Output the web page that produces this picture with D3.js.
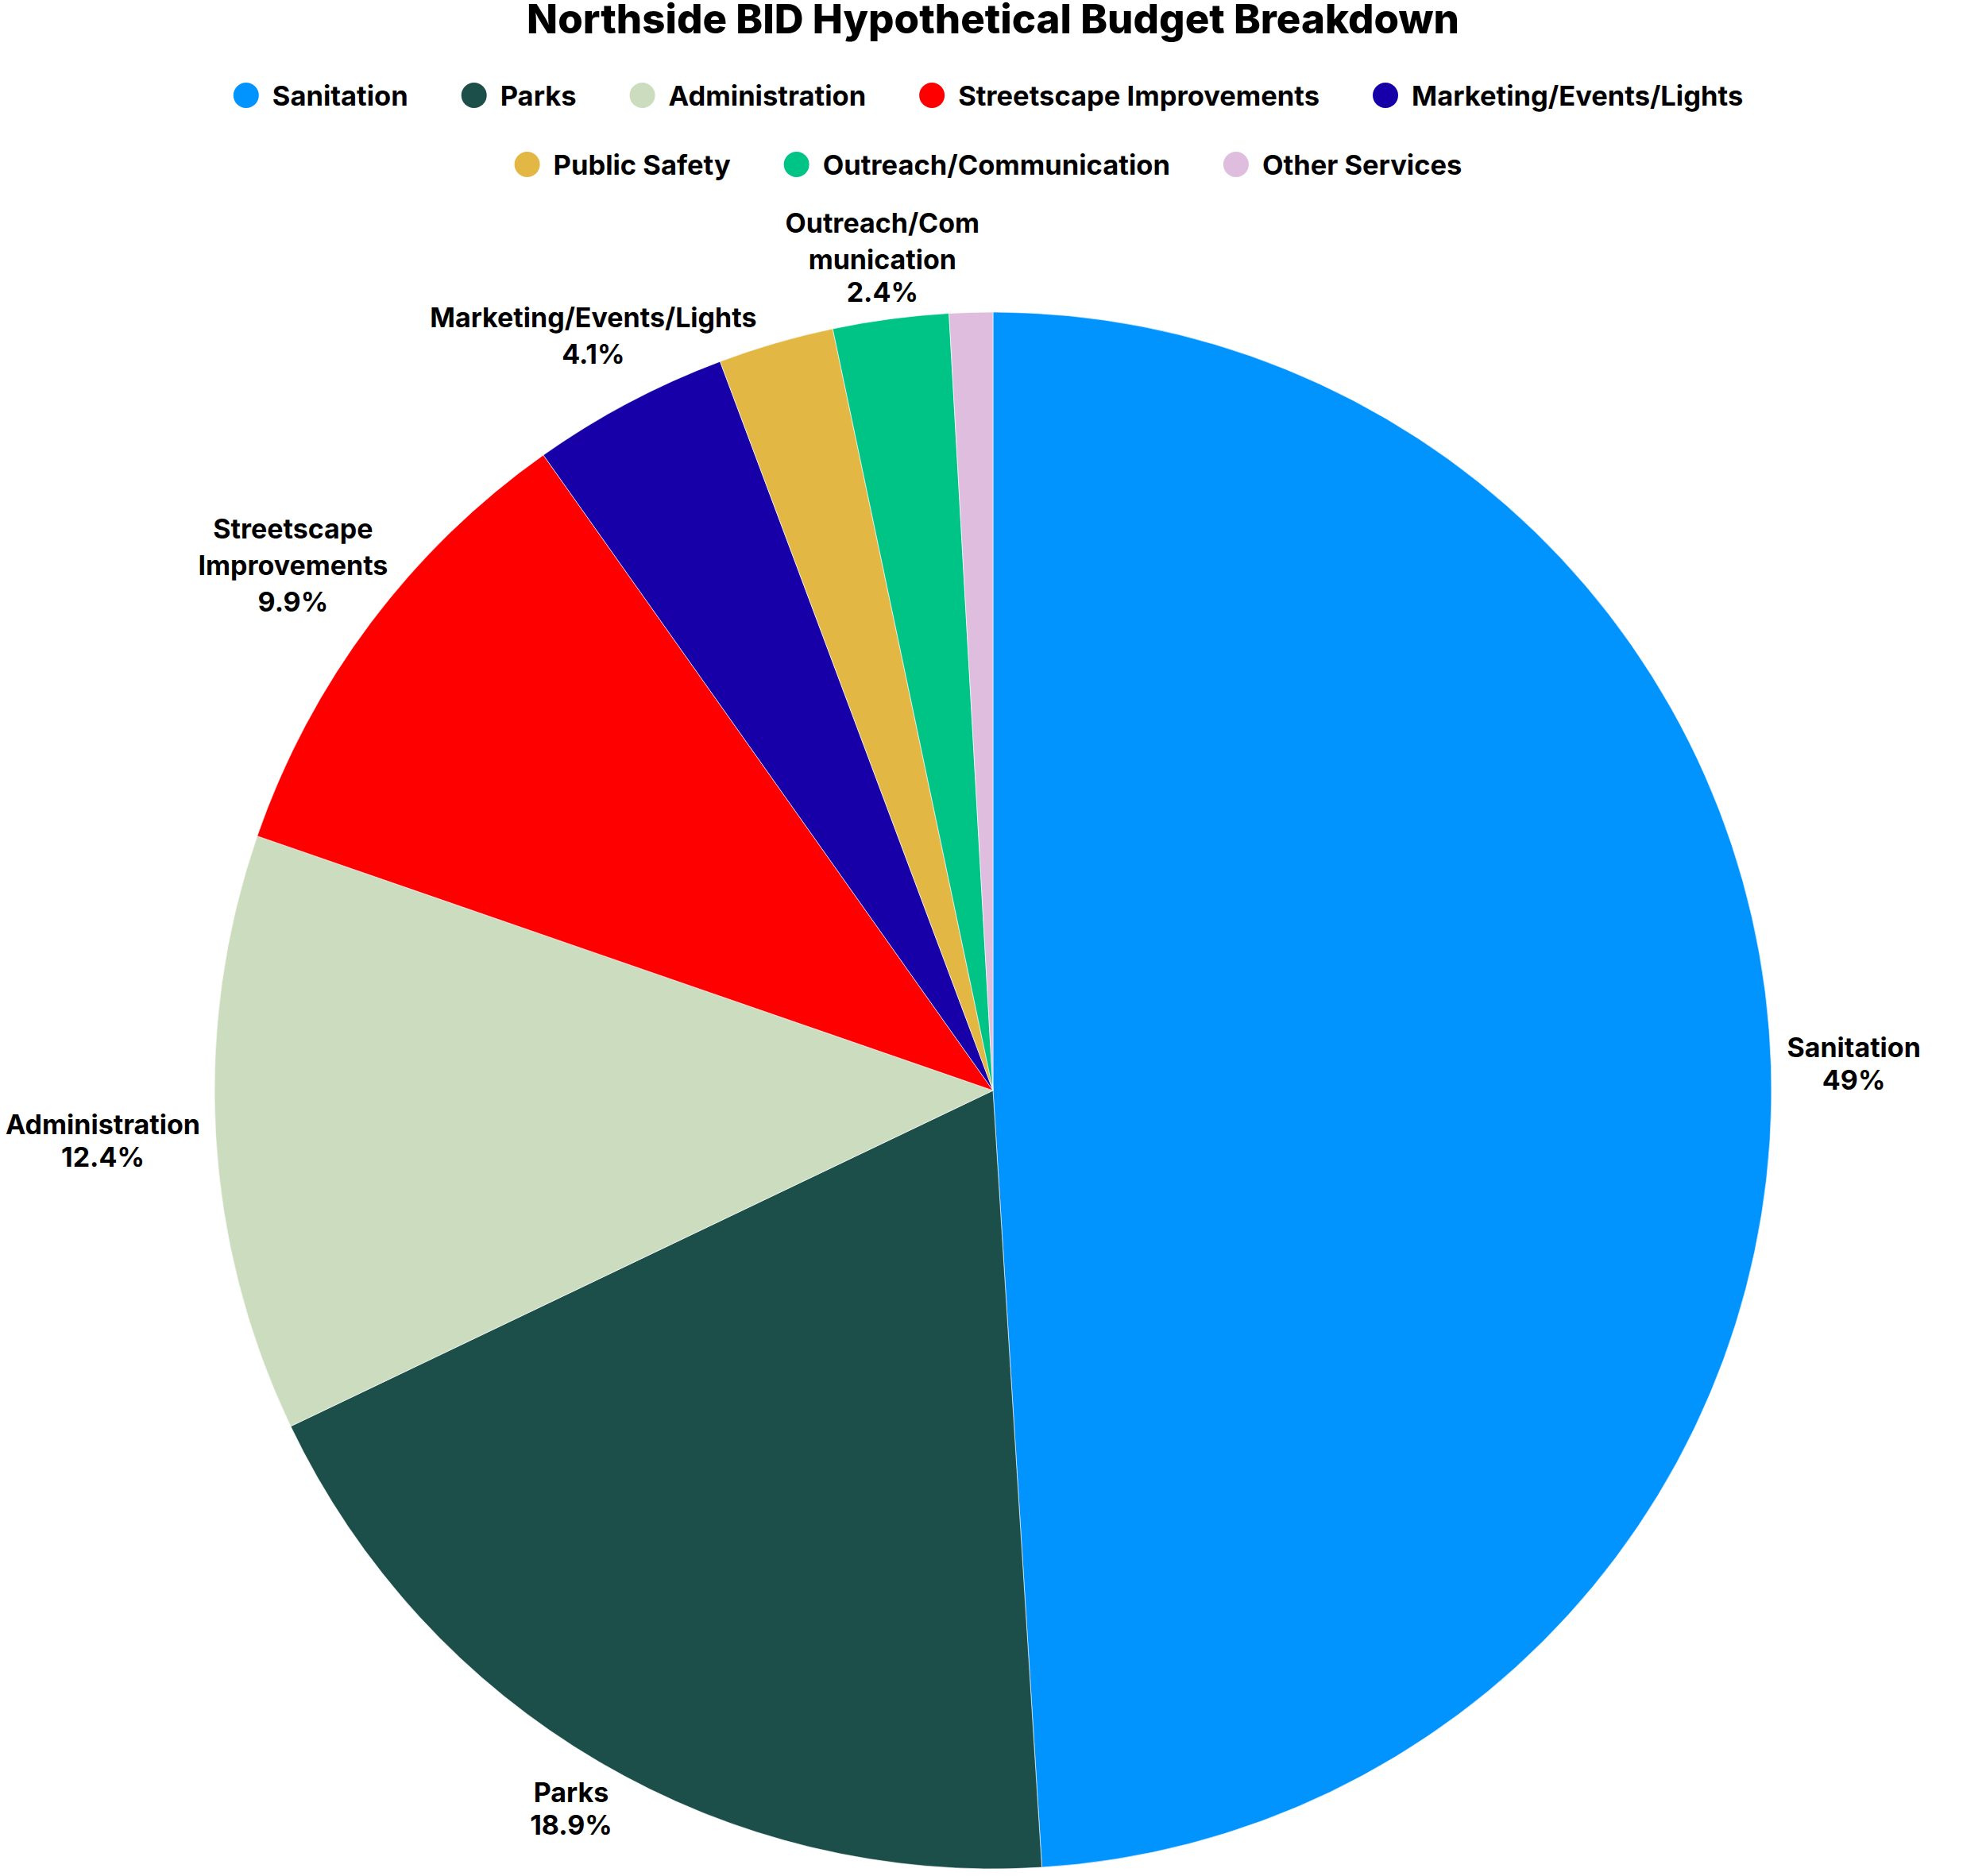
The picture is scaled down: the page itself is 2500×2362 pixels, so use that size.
<!DOCTYPE html>
<html>
<head>
<meta charset="utf-8">
<script src="https://cdn.jsdelivr.net/npm/d3@7"></script>
<style>
  html, body { margin: 0; padding: 0; background: #ffffff; }
  svg { display: block; }
  text { font-family: Inter, "Noto Sans", sans-serif; font-weight: 700; fill: #000; }
</style>
</head>
<body>
<svg id="chart" width="2500" height="2362"></svg>
<script>
const titleText = "Northside BID Hypothetical Budget Breakdown";
const categories = ["Sanitation", "Parks", "Administration", "Streetscape Improvements",
  "Marketing/Events/Lights", "Public Safety", "Outreach/Communication", "Other Services"];
const values = [49.0, 18.9, 12.4, 9.9, 4.1, 2.4, 2.4, 0.9];
const colors = ["#0193FE", "#1C4F4A", "#CCDCBE", "#FE0000", "#1800A9", "#E3B744", "#00C386", "#DEBDDE"];
const labelLines = [
  ["Sanitation"], ["Parks"], ["Administration"], ["Streetscape", "Improvements"],
  ["Marketing/Events/Lights"], ["Public Safety"], ["Outreach/Com", "munication"], ["Other Services"]
];
const percentLabels = ["49%", "18.9%", "12.4%", "9.9%", "4.1%", "2.4%", "2.4%", "0.9%"];
const showLabel = [true, true, true, true, true, false, true, false];

const W = 2500, H = 2362;
const cx = 1250, cy = 1373, R = 980;
const fontSize = 34, lineH = 41, capH = 25, descExtra = 5;
const labelPad = [0, 10, 0, 0, -26, 0, 0, 0];

const svg = d3.select("#chart");

// Title
svg.append("text")
  .attr("x", 1250).attr("y", 42)
  .attr("text-anchor", "middle")
  .style("font-size", "51px")
  .style("font-weight", 800)
  .text(titleText);

// Pie
const data = categories.map((c, i) => ({ name: c, value: values[i], i }));
const pie = d3.pie().value(d => d.value).sort(null).startAngle(0).endAngle(2 * Math.PI);
const arcs = pie(data);
const arc = d3.arc().innerRadius(0).outerRadius(R);
const color = d3.scaleOrdinal().domain(categories).range(colors);

const g = svg.append("g").attr("transform", `translate(${cx},${cy})`);
g.selectAll("path.slice").data(arcs).enter().append("path")
  .attr("class", "slice")
  .attr("d", arc)
  .attr("fill", d => color(d.data.name))
  .attr("stroke", "#ffffff")
  .attr("stroke-width", 0.6);

// Labels
const R0 = R + 20;
arcs.forEach(a => {
  const i = a.data.i;
  if (!showLabel[i]) return;
  const lines = labelLines[i].concat([percentLabels[i]]);
  const base = [0];
  for (let k = 1; k < lines.length; k++) {
    const hasDesc = /[gjpqy\/]/.test(lines[k - 1]) || /[gjpqy\/]/.test(lines[k]);
    base.push(base[k - 1] + lineH + (hasDesc ? descExtra : 0));
  }
  const total = base[base.length - 1] + capH;
  const lg = g.append("g");
  const t = lg.append("text").attr("text-anchor", "middle").style("font-size", fontSize + "px");
  lines.forEach((ln, k) => {
    t.append("tspan").attr("x", 0)
      .attr("y", base[k] + capH - total / 2)
      .text(ln);
  });
  const bw = t.node().getBBox().width;
  const hw = bw / 2, hh = total / 2;
  const mid = (a.startAngle + a.endAngle) / 2;
  const s = Math.sin(mid), c = Math.cos(mid);
  const D = R0 + labelPad[i] + Math.sqrt((hw * s) ** 2 + (hh * c) ** 2);
  lg.attr("transform", `translate(${D * s},${-D * c})`);
});

// Legend
const legendCenter = 1244, rowY = [120, 207], mR = 16, textGap = 17, itemGap = 67, maxRow = 2000;
const legendFont = 34.5;
const tmp = svg.append("g");
const items = categories.map((c, i) => {
  const tt = tmp.append("text").style("font-size", legendFont + "px").text(c);
  const w = tt.node().getComputedTextLength();
  tt.remove();
  return { name: c, i, w: 2 * mR + textGap + w };
});
tmp.remove();
const rows = [];
let cur = [], curW = 0;
items.forEach(it => {
  const add = (cur.length ? itemGap : 0) + it.w;
  if (cur.length && curW + add > maxRow) { rows.push(cur); cur = []; curW = 0; }
  curW += (cur.length ? itemGap : 0) + it.w;
  cur.push(it);
});
if (cur.length) rows.push(cur);

const leg = svg.append("g");
rows.forEach((row, r) => {
  const total = d3.sum(row, d => d.w) + itemGap * (row.length - 1);
  let x = legendCenter - total / 2;
  const y = rowY[r] !== undefined ? rowY[r] : rowY[0] + r * 87;
  row.forEach(it => {
    leg.append("circle").attr("cx", x + mR).attr("cy", y).attr("r", mR).attr("fill", color(it.name));
    leg.append("text").attr("x", x + 2 * mR + textGap).attr("y", y + capH / 2)
      .style("font-size", legendFont + "px").text(it.name);
    x += it.w + itemGap;
  });
});
</script>
</body>
</html>
